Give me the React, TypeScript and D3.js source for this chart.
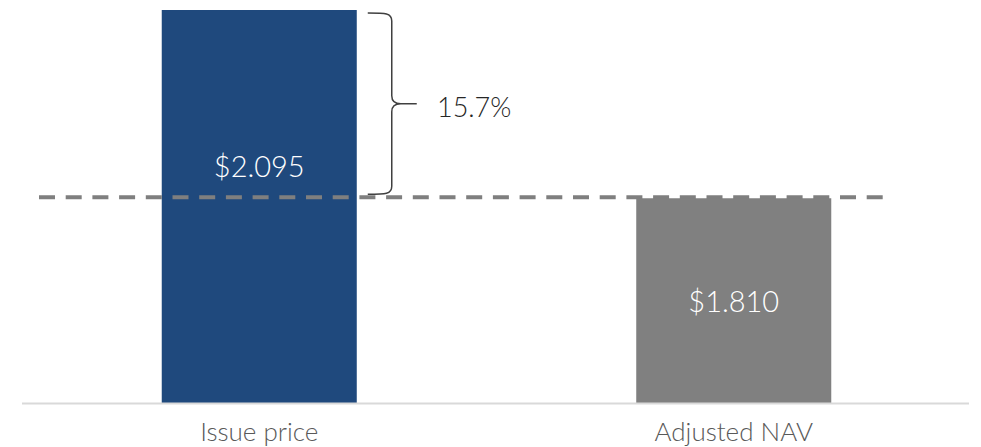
import React from 'react';
import * as d3 from 'd3';

const categories = ['Issue price', 'Adjusted NAV'];
const values = [2.095, 1.81];
const valueLabels = ['$2.095', '$1.810'];
const barColors = ['#1F497D', '#808080'];
const gapLabel = '15.7%';

const W = 981;
const H = 447;
const FONT = 'Lato, "Open Sans", sans-serif';

const App = () => {
    const x = d3.scaleBand<string>()
        .domain(categories)
        .range([22, 971])
        .paddingInner(0.589)
        .paddingOuter(0.2945);

    const y = d3.scaleLinear()
        .domain([1.5, 2.1])
        .range([403, 10 - 0.005 * 659.6]);

    const yTop = y(values[0]);
    const yRef = y(values[1]);

    // brace between the two values, to the right of the first bar
    const bx0 = (x(categories[0]) as number) + x.bandwidth() + 11;
    const bx1 = bx0 + 24;
    const t = yTop + 3;
    const b = yRef - 4;
    const m = (t + b) / 2;
    const brace = [
        `M${bx0},${t}`,
        `C${bx0 + 18},${t} ${bx1},${t} ${bx1},${t + 8}`,
        `L${bx1},${m - 8}`,
        `C${bx1},${m - 2} ${bx1 + 3},${m} ${bx1 + 9},${m}`,
        `L${bx1 + 25},${m}`,
        `M${bx1 + 9},${m}`,
        `C${bx1 + 3},${m} ${bx1},${m + 2} ${bx1},${m + 8}`,
        `L${bx1},${b - 8}`,
        `C${bx1},${b} ${bx0 + 18},${b} ${bx0},${b}`,
    ].join(' ');

    return (
        <svg width={W} height={H} style={{ position: 'absolute', left: 0, top: 0 }}>
            {categories.map((c, i) => (
                <rect
                    key={c}
                    x={x(c)}
                    y={y(values[i])}
                    width={x.bandwidth()}
                    height={y(1.5) - y(values[i])}
                    fill={barColors[i]}
                />
            ))}
            {/* baseline */}
            <line x1={22} x2={969} y1={403.5} y2={403.5} stroke="#D9D9D9" strokeWidth={2} />
            {/* reference dashed line at adjusted NAV */}
            <line
                x1={39}
                x2={883}
                y1={yRef - 1}
                y2={yRef - 1}
                stroke="#7F7F7F"
                strokeWidth={4}
                strokeDasharray="16 10.7"
            />
            {categories.map((c, i) => (
                <text
                    key={c + '-v'}
                    x={(x(c) as number) + x.bandwidth() / 2}
                    y={i === 0 ? 177 : 312}
                    textAnchor="middle"
                    fill="#FFFFFF"
                    fontFamily={FONT}
                    fontWeight={300}
                    fontSize={29}
                >
                    {valueLabels[i]}
                </text>
            ))}
            {categories.map(c => (
                <text
                    key={c + '-l'}
                    x={(x(c) as number) + x.bandwidth() / 2}
                    y={441}
                    textAnchor="middle"
                    fill="#595959"
                    fontFamily={FONT}
                    fontWeight={300}
                    fontSize={26}
                >
                    {c}
                </text>
            ))}
            <path d={brace} fill="none" stroke="#404040" strokeWidth={1.5} />
            <text x={437} y={117} fill="#262626" fontFamily={FONT} fontWeight={300} fontSize={27}>
                {gapLabel}
            </text>
        </svg>
    );
};

export default App;
